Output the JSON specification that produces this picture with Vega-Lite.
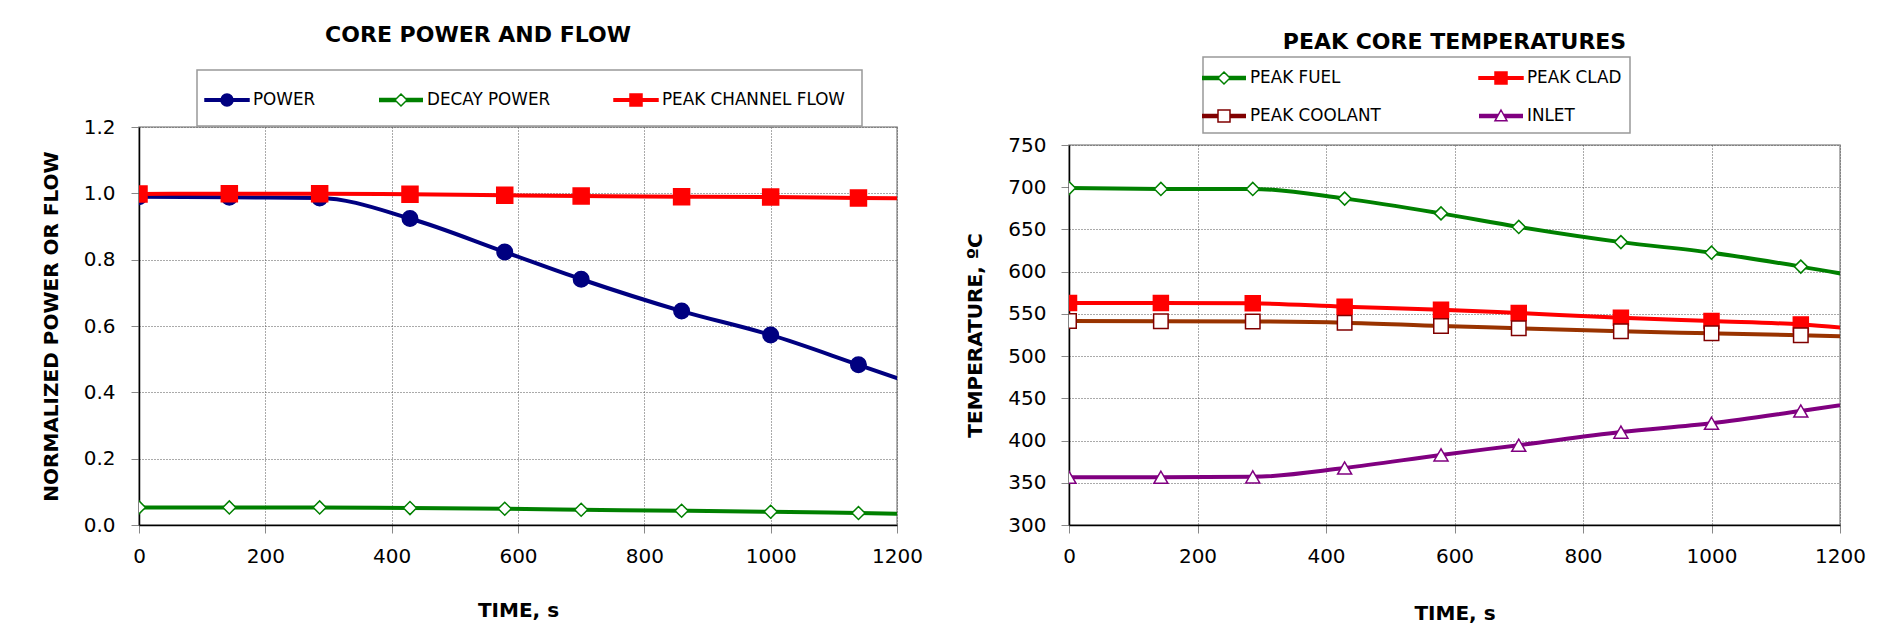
{
  "$schema": "https://vega.github.io/schema/vega-lite/v6.json",
  "background": "white",
  "padding": {"left": 40, "top": 23, "right": 5, "bottom": 5},
  "spacing": 41,
  "columns": 2,
  "align": "none",
  "resolve": {
    "scale": {"shape": "independent", "fill": "independent", "stroke": "independent"},
    "legend": {"shape": "independent", "fill": "independent", "stroke": "independent"}
  },
  "datasets": {
    "power": [
      {"t": 0, "series": "POWER", "v": 0.99},
      {"t": 143, "series": "POWER", "v": 0.988},
      {"t": 286, "series": "POWER", "v": 0.986},
      {"t": 429, "series": "POWER", "v": 0.924},
      {"t": 579, "series": "POWER", "v": 0.823},
      {"t": 700, "series": "POWER", "v": 0.741},
      {"t": 859, "series": "POWER", "v": 0.645},
      {"t": 1000, "series": "POWER", "v": 0.573},
      {"t": 1139, "series": "POWER", "v": 0.483},
      {"t": 1280, "series": "POWER", "v": 0.39},
      {"t": 0, "series": "DECAY POWER", "v": 0.053},
      {"t": 143, "series": "DECAY POWER", "v": 0.053},
      {"t": 286, "series": "DECAY POWER", "v": 0.053},
      {"t": 429, "series": "DECAY POWER", "v": 0.051},
      {"t": 579, "series": "DECAY POWER", "v": 0.049},
      {"t": 700, "series": "DECAY POWER", "v": 0.046},
      {"t": 859, "series": "DECAY POWER", "v": 0.043},
      {"t": 1000, "series": "DECAY POWER", "v": 0.04},
      {"t": 1139, "series": "DECAY POWER", "v": 0.036},
      {"t": 1280, "series": "DECAY POWER", "v": 0.032},
      {"t": 0, "series": "PEAK CHANNEL FLOW", "v": 0.998},
      {"t": 143, "series": "PEAK CHANNEL FLOW", "v": 0.999},
      {"t": 286, "series": "PEAK CHANNEL FLOW", "v": 0.999},
      {"t": 429, "series": "PEAK CHANNEL FLOW", "v": 0.997},
      {"t": 579, "series": "PEAK CHANNEL FLOW", "v": 0.994},
      {"t": 700, "series": "PEAK CHANNEL FLOW", "v": 0.992},
      {"t": 859, "series": "PEAK CHANNEL FLOW", "v": 0.99},
      {"t": 1000, "series": "PEAK CHANNEL FLOW", "v": 0.989},
      {"t": 1139, "series": "PEAK CHANNEL FLOW", "v": 0.986},
      {"t": 1280, "series": "PEAK CHANNEL FLOW", "v": 0.984}
    ],
    "temps": [
      {"t": 0, "series": "PEAK FUEL", "v": 699},
      {"t": 143, "series": "PEAK FUEL", "v": 698},
      {"t": 286, "series": "PEAK FUEL", "v": 698},
      {"t": 429, "series": "PEAK FUEL", "v": 686.5},
      {"t": 579, "series": "PEAK FUEL", "v": 669},
      {"t": 700, "series": "PEAK FUEL", "v": 653},
      {"t": 859, "series": "PEAK FUEL", "v": 635},
      {"t": 1000, "series": "PEAK FUEL", "v": 622.5},
      {"t": 1139, "series": "PEAK FUEL", "v": 606},
      {"t": 1280, "series": "PEAK FUEL", "v": 587},
      {"t": 0, "series": "PEAK CLAD", "v": 563},
      {"t": 143, "series": "PEAK CLAD", "v": 563},
      {"t": 286, "series": "PEAK CLAD", "v": 562.5},
      {"t": 429, "series": "PEAK CLAD", "v": 558.5},
      {"t": 579, "series": "PEAK CLAD", "v": 555},
      {"t": 700, "series": "PEAK CLAD", "v": 551},
      {"t": 859, "series": "PEAK CLAD", "v": 545.5},
      {"t": 1000, "series": "PEAK CLAD", "v": 541.5},
      {"t": 1139, "series": "PEAK CLAD", "v": 537.5},
      {"t": 1280, "series": "PEAK CLAD", "v": 528},
      {"t": 0, "series": "PEAK COOLANT", "v": 541.5},
      {"t": 143, "series": "PEAK COOLANT", "v": 541.3},
      {"t": 286, "series": "PEAK COOLANT", "v": 541},
      {"t": 429, "series": "PEAK COOLANT", "v": 539.6},
      {"t": 579, "series": "PEAK COOLANT", "v": 535.6},
      {"t": 700, "series": "PEAK COOLANT", "v": 533},
      {"t": 859, "series": "PEAK COOLANT", "v": 529.3},
      {"t": 1000, "series": "PEAK COOLANT", "v": 527},
      {"t": 1139, "series": "PEAK COOLANT", "v": 524.6},
      {"t": 1280, "series": "PEAK COOLANT", "v": 521.8},
      {"t": 0, "series": "INLET", "v": 356.5},
      {"t": 143, "series": "INLET", "v": 356.5},
      {"t": 286, "series": "INLET", "v": 357},
      {"t": 429, "series": "INLET", "v": 367.5},
      {"t": 579, "series": "INLET", "v": 383},
      {"t": 700, "series": "INLET", "v": 394.5},
      {"t": 859, "series": "INLET", "v": 410},
      {"t": 1000, "series": "INLET", "v": 420.5},
      {"t": 1139, "series": "INLET", "v": 435},
      {"t": 1280, "series": "INLET", "v": 450.5}
    ]
  },
  "config": {
    "font": "DejaVu Sans",
    "view": {"stroke": "#999", "strokeWidth": 1.5},
    "axis": {
      "labelFont": "DejaVu Sans", "labelFontSize": 20, "labelColor": "#000",
      "titleFont": "DejaVu Sans", "titleFontSize": 20, "titleFontWeight": "bold", "titleColor": "#000",
      "domainColor": "#000", "domainWidth": 1.5,
      "tickColor": "#888", "tickSize": 8, "tickWidth": 1,
      "gridColor": "#555", "gridDash": [1, 2], "gridWidth": 1,
      "labelFlush": false, "labelOverlap": false
    },
    "title": {"font": "DejaVu Sans", "fontSize": 22, "fontWeight": "bold", "color": "#000", "anchor": "middle"},
    "legend": {
      "labelFont": "DejaVu Sans", "labelFontSize": 16.8, "labelColor": "#000", "labelLimit": 400,
      "symbolSize": 576, "symbolStrokeWidth": 1.5, "symbolOpacity": 1, "labelOffset": 13,
      "strokeColor": "#999", "strokeWidth": 1.5, "fillColor": "white"
    }
  },
  "concat": [
    {
      "width": 758,
      "height": 398,
      "title": {"text": "CORE POWER AND FLOW", "dx": -40, "offset": 22},
      "data": {"name": "power"},
      "encoding": {
        "x": {"field": "t", "type": "quantitative", "scale": {"domain": [0, 1200], "nice": false},
              "axis": {"values": [0, 200, 400, 600, 800, 1000, 1200], "format": "d", "title": "TIME, s", "labelPadding": 13, "titlePadding": 34}},
        "y": {"field": "v", "type": "quantitative", "scale": {"domain": [0, 1.2], "nice": false},
              "axis": {"values": [0, 0.2, 0.4, 0.6, 0.8, 1, 1.2], "format": ".1f", "title": "NORMALIZED POWER OR FLOW", "labelPadding": 16, "titlePadding": 22}}
      },
      "layer": [
        {
          "mark": {"type": "line", "interpolate": "monotone", "strokeWidth": 4, "clip": true},
          "encoding": {
            "detail": {"field": "series", "type": "nominal"},
            "color": {"condition": [{"test": "datum.series==='POWER'", "value": "#000080"}, {"test": "datum.series==='DECAY POWER'", "value": "#008000"}], "value": "#FF0000"}
          }
        },
        {
          "mark": {"type": "point", "clip": true, "opacity": 1, "strokeWidth": 1.5, "fillOpacity": 1},
          "encoding": {
            "shape": {"condition": [{"test": "datum.series==='POWER'", "value": "circle"}, {"test": "datum.series==='PEAK CHANNEL FLOW'", "value": "square"}], "value": "diamond"},
            "fill": {"condition": [{"test": "datum.series==='POWER'", "value": "#000080"}, {"test": "datum.series==='PEAK CHANNEL FLOW'", "value": "#FF0000"}], "value": "#FFFFFF"},
            "stroke": {"condition": [{"test": "datum.series==='POWER'", "value": "#000080"}, {"test": "datum.series==='PEAK CHANNEL FLOW'", "value": "#FF0000"}], "value": "#008000"},
            "size": {"condition": [{"test": "datum.series==='POWER'", "value": 240}, {"test": "datum.series==='PEAK CHANNEL FLOW'", "value": 256}], "value": 169}
          }
        },
        {
          "mark": {"type": "point", "opacity": 0, "strokeWidth": 1.5, "clip": true},
          "encoding": {
            "shape": {"field": "series", "type": "nominal",
              "scale": {"domain": ["POWER", "DECAY POWER", "PEAK CHANNEL FLOW"], "range": [
                "M-1.833,-0.1H1.833V0.1H-1.833Z M0.5,0A0.5,0.5 0 1,1 -0.5,0A0.5,0.5 0 1,1 0.5,0Z",
                "M-1.833,-0.12H-0.38 M-1.833,-0.06H-0.44 M-1.833,0H-0.5 M-1.833,0.06H-0.44 M-1.833,0.12H-0.38 M0.38,-0.12H1.833 M0.44,-0.06H1.833 M0.5,0H1.833 M0.44,0.06H1.833 M0.38,0.12H1.833 M0,-0.5L0.5,0L0,0.5L-0.5,0Z",
                "M-1.833,-0.1H1.833V0.1H-1.833Z M-0.5,-0.5H0.5V0.5H-0.5Z"]},
              "legend": {"title": null, "orient": "none", "legendX": 58, "legendY": -57, "direction": "horizontal", "columns": 3, "gridAlign": "each", "columnPadding": 60, "padding": 17, "symbolOpacity": 1}},
            "fill": {"field": "series", "type": "nominal",
              "scale": {"domain": ["POWER", "DECAY POWER", "PEAK CHANNEL FLOW"], "range": ["#000080", "#FFFFFF", "#FF0000"]},
              "legend": {"title": null, "orient": "none", "legendX": 58, "legendY": -57, "direction": "horizontal", "columns": 3, "gridAlign": "each", "columnPadding": 60, "padding": 17, "symbolOpacity": 1}},
            "stroke": {"field": "series", "type": "nominal",
              "scale": {"domain": ["POWER", "DECAY POWER", "PEAK CHANNEL FLOW"], "range": ["#000080", "#008000", "#FF0000"]},
              "legend": {"title": null, "orient": "none", "legendX": 58, "legendY": -57, "direction": "horizontal", "columns": 3, "gridAlign": "each", "columnPadding": 60, "padding": 17, "symbolOpacity": 1}}
          }
        }
      ]
    },
    {
      "vconcat": [
        {
          "width": 1,
          "height": 18,
          "view": {"stroke": null},
          "data": {"values": []},
          "mark": "point"
        },
        {
          "width": 771,
          "height": 380,
          "title": {"text": "PEAK CORE TEMPERATURES", "offset": 81},
          "data": {"name": "temps"},
          "encoding": {
            "x": {"field": "t", "type": "quantitative", "scale": {"domain": [0, 1200], "nice": false},
                  "axis": {"values": [0, 200, 400, 600, 800, 1000, 1200], "format": "d", "title": "TIME, s", "labelPadding": 13, "titlePadding": 37}},
            "y": {"field": "v", "type": "quantitative", "scale": {"domain": [300, 750], "nice": false, "zero": false},
                  "axis": {"values": [300, 350, 400, 450, 500, 550, 600, 650, 700, 750], "title": "TEMPERATURE, ºC", "labelPadding": 15, "titlePadding": 22}}
          },
          "layer": [
            {
              "mark": {"type": "line", "interpolate": "monotone", "strokeWidth": 4, "clip": true},
              "encoding": {
                "detail": {"field": "series", "type": "nominal"},
                "color": {"condition": [{"test": "datum.series==='PEAK FUEL'", "value": "#008000"}, {"test": "datum.series==='PEAK CLAD'", "value": "#FF0000"}, {"test": "datum.series==='PEAK COOLANT'", "value": "#993300"}], "value": "#800080"}
              }
            },
            {
              "mark": {"type": "point", "clip": true, "opacity": 1, "strokeWidth": 1.5, "fillOpacity": 1},
              "encoding": {
                "shape": {"condition": [{"test": "datum.series==='PEAK FUEL'", "value": "diamond"}, {"test": "datum.series==='INLET'", "value": "triangle-up"}], "value": "square"},
                "fill": {"condition": [{"test": "datum.series==='PEAK CLAD'", "value": "#FF0000"}], "value": "#FFFFFF"},
                "stroke": {"condition": [{"test": "datum.series==='PEAK FUEL'", "value": "#008000"}, {"test": "datum.series==='PEAK CLAD'", "value": "#FF0000"}, {"test": "datum.series==='PEAK COOLANT'", "value": "#800000"}], "value": "#800080"},
                "size": {"condition": [{"test": "datum.series==='PEAK CLAD'", "value": 225}, {"test": "datum.series==='PEAK COOLANT'", "value": 210}, {"test": "datum.series==='INLET'", "value": 196}], "value": 169}
              }
            },
            {
              "mark": {"type": "point", "opacity": 0, "strokeWidth": 1.5, "clip": true},
              "encoding": {
                "shape": {"field": "series", "type": "nominal",
                  "scale": {"domain": ["PEAK FUEL", "PEAK CLAD", "PEAK COOLANT", "INLET"], "range": [
                    "M-1.833,-0.12H-0.38 M-1.833,-0.06H-0.44 M-1.833,0H-0.5 M-1.833,0.06H-0.44 M-1.833,0.12H-0.38 M0.38,-0.12H1.833 M0.44,-0.06H1.833 M0.5,0H1.833 M0.44,0.06H1.833 M0.38,0.12H1.833 M0,-0.5L0.5,0L0,0.5L-0.5,0Z",
                    "M-1.833,-0.1H1.833V0.1H-1.833Z M-0.5,-0.5H0.5V0.5H-0.5Z",
                    "M-1.833,-0.12H-0.5 M-1.833,-0.06H-0.5 M-1.833,0H-0.5 M-1.833,0.06H-0.5 M-1.833,0.12H-0.5 M0.5,-0.12H1.833 M0.5,-0.06H1.833 M0.5,0H1.833 M0.5,0.06H1.833 M0.5,0.12H1.833 M-0.5,-0.5H0.5V0.5H-0.5Z",
                    "M-1.833,-0.12H-0.211 M-1.833,-0.06H-0.244 M-1.833,0H-0.278 M-1.833,0.06H-0.311 M-1.833,0.12H-0.344 M0.211,-0.12H1.833 M0.244,-0.06H1.833 M0.278,0H1.833 M0.311,0.06H1.833 M0.344,0.12H1.833 M0,-0.5L0.5,0.4L-0.5,0.4Z"]},
                  "legend": {"title": null, "orient": "none", "legendX": 134, "legendY": -70, "direction": "horizontal", "columns": 2, "gridAlign": "each", "columnPadding": 95, "rowPadding": 16, "padding": 8, "symbolOpacity": 1}},
                "fill": {"field": "series", "type": "nominal",
                  "scale": {"domain": ["PEAK FUEL", "PEAK CLAD", "PEAK COOLANT", "INLET"], "range": ["#FFFFFF", "#FF0000", "#FFFFFF", "#FFFFFF"]},
                  "legend": {"title": null, "orient": "none", "legendX": 134, "legendY": -70, "direction": "horizontal", "columns": 2, "gridAlign": "each", "columnPadding": 95, "rowPadding": 16, "padding": 8, "symbolOpacity": 1}},
                "stroke": {"field": "series", "type": "nominal",
                  "scale": {"domain": ["PEAK FUEL", "PEAK CLAD", "PEAK COOLANT", "INLET"], "range": ["#008000", "#FF0000", "#800000", "#800080"]},
                  "legend": {"title": null, "orient": "none", "legendX": 134, "legendY": -70, "direction": "horizontal", "columns": 2, "gridAlign": "each", "columnPadding": 95, "rowPadding": 16, "padding": 8, "symbolOpacity": 1}}
              }
            }
          ]
        }
      ],
      "spacing": 0,
      "bounds": "flush"
    }
  ]
}
